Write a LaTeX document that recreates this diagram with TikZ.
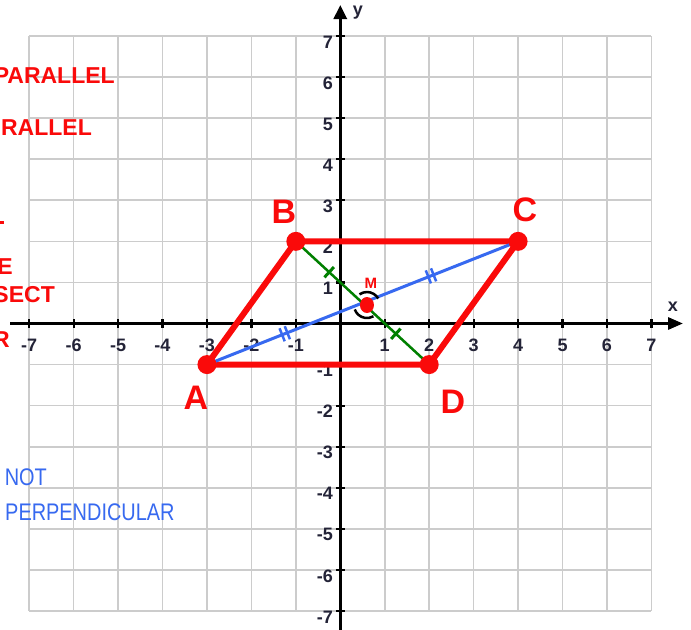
\documentclass[tikz,border=0pt]{standalone}
\usepackage{fontspec}
\setmainfont{Liberation Sans}
\newfontfamily\handb{Liberation Sans}[FakeStretch=0.83]
\usetikzlibrary{arrows.meta,calc,shapes.geometric}
\definecolor{gridc}{RGB}{204,204,204}
\definecolor{labc}{RGB}{35,35,55}
\definecolor{penred}{RGB}{250,10,10}
\definecolor{penblue}{RGB}{55,105,240}
\definecolor{pengreen}{RGB}{0,128,0}
\begin{document}
\begin{tikzpicture}[x=44.45pt,y=41.07pt,
  gridline/.style={gridc,line width=1.6pt},
  axisline/.style={black,line width=3pt},
  axistick/.style={black,line width=2.2pt},
  ticklab/.style={font=\fontsize{18}{18}\selectfont\bfseries,text=labc,inner sep=0pt},
  side/.style={penred,line width=6pt,line cap=round,line join=round},
  vdot/.style={circle,fill=penred,minimum size=19pt,inner sep=0pt},
  mdot/.style={ellipse,fill=penred,minimum width=14pt,minimum height=16pt,inner sep=0pt},
  bdiag/.style={penblue,line width=3pt},
  gdiag/.style={pengreen,line width=2.5pt},
  btick/.style={penblue,line width=2.5pt},
  gtick/.style={pengreen,line width=3pt},
  angmark/.style={black,line width=2.5pt},
  vlab/.style={font=\fontsize{34}{34}\selectfont\bfseries,text=penred,inner sep=0pt},
  redtxt/.style={font=\fontsize{23}{23}\selectfont\bfseries,text=penred,inner sep=0pt},
  bluetxt/.style={font=\handb\fontsize{24}{24}\selectfont,text=penblue,inner sep=0pt}]
\useasboundingbox (-7.656,-7.463) rectangle (7.890,7.877);
\fill[white] (-7.656,-7.463) rectangle (7.890,7.877);
% grid
\foreach \k in {-7,...,7} {
  \draw[gridline] (\k,-7) -- (\k,7);
  \draw[gridline] (-7,\k) -- (7,\k);
}
% axes
\coordinate (xs) at (-7.42,0);
\coordinate (xe) at (7.71,0);
\coordinate (ys) at (0,-7.6);
\coordinate (ye) at (0,7.755);
\draw[axisline,-{Triangle[length=15pt,width=12pt]}] (xs) -- (xe);
\draw[axisline,-{Triangle[length=14pt,width=13pt]}] (ys) -- (ye);
\foreach \i in {-7,-6,-5,-4,-3,-2,-1,1,2,3,4,5,6,7} {
  \draw[axistick] (\i,0) ++(0,-4.5pt) -- ++(0,9pt);
  \draw[axistick] (0,\i) ++(-4.5pt,0) -- ++(9pt,0);
  \node[ticklab] (xl\i) at (\i,-0.523) {\i};
  \node[ticklab,anchor=east] (yl\i) at (-0.164,\i-0.146) {\i};
}
\node[ticklab] (xlab) at (7.485,0.40) {x};
\node[ticklab] (ylab) at (0.398,7.56) {y};
% parallelogram
\coordinate (A) at (-3,-1);
\coordinate (B) at (-1,2);
\coordinate (C) at (4,2);
\coordinate (D) at (2,-1);
\coordinate (M) at (0.5,0.5);
\coordinate (Mc) at (0.6,0.45);
\draw[side] (A) -- (B) -- (C) -- (D) -- cycle;
% diagonals
\draw[bdiag] (A) -- (C);
\draw[gdiag] (B) -- (D);
% single ticks on green
\coordinate (g1) at ($(B)!0.5!(M)$);
\coordinate (g2) at ($(M)!0.5!(D)$);
\draw[gtick] ($(g1)!7pt!90:(B)$) -- ($(g1)!7pt!-90:(B)$);
\draw[gtick] ($(g2)!7pt!90:(D)$) -- ($(g2)!7pt!-90:(D)$);
% double ticks on blue
\coordinate (b1) at ($(A)!0.25!(C)$);
\coordinate (b2) at ($(A)!0.72!(C)$);
\coordinate (b1a) at ($(b1)!2.8pt!(C)$);
\coordinate (b1b) at ($(b1)!-2.8pt!(C)$);
\coordinate (b2a) at ($(b2)!2.8pt!(C)$);
\coordinate (b2b) at ($(b2)!-2.8pt!(C)$);
\foreach \p in {b1a,b1b,b2a,b2b} {
  \draw[btick] ($(\p)!7pt!90:(C)$) -- ($(\p)!7pt!-90:(C)$);
}
% angle marks
\draw[angmark] ([shift={(30:13pt)}]Mc) arc[start angle=30,end angle=125,radius=13pt];
\draw[angmark] ([shift={(200:13pt)}]Mc) arc[start angle=200,end angle=300,radius=13pt];
% dots
\node[vdot] (dA) at (A) {};
\node[vdot] (dB) at (B) {};
\node[vdot] (dC) at (C) {};
\node[vdot] (dD) at (D) {};
\node[mdot] (dM) at (Mc) {};
% vertex labels
\node[vlab] (lB) at (-1.267,2.715) {B};
\node[vlab] (lC) at (4.155,2.764) {C};
\node[vlab] (lA) at (-3.246,-1.814) {A};
\node[vlab] (lD) at (2.535,-1.911) {D};
\node[font=\fontsize{15}{15}\selectfont\bfseries,text=penred,inner sep=0pt] (lM) at (0.69,0.986) {M};
% left notes (cut off at the edge, as in the reference)
\node[redtxt,anchor=east] (t1) at (-5.07,6.03) {PARALLEL};
\node[redtxt,anchor=east] (t2) at (-5.586,4.76) {RALLEL};
\draw[penred,line width=3pt] (-7.656,2.47) -- (-7.566,2.47);
\node[redtxt,anchor=east] (t3) at (-7.363,1.376) {E};
\node[redtxt,anchor=east] (t4) at (-6.418,0.694) {SECT};
\node[redtxt,anchor=east] (t5) at (-7.43,-0.40) {R};
\node[bluetxt,anchor=east] (t6) at (-6.598,-3.738) {NOT};
\node[bluetxt,anchor=west] (t7) at (-7.543,-4.59) {PERPENDICULAR};
\end{tikzpicture}
\end{document}
